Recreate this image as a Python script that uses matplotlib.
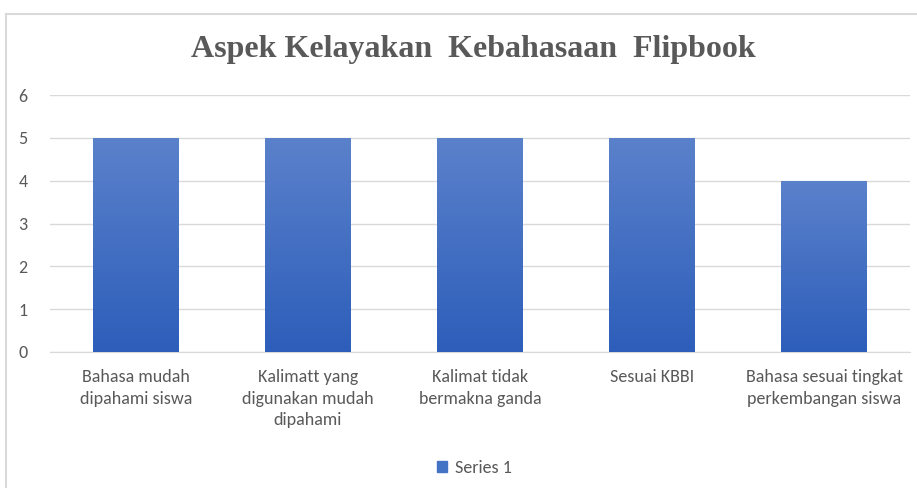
import matplotlib
matplotlib.use("Agg")
import matplotlib.pyplot as plt
import numpy as np
from matplotlib.patches import Rectangle, Patch
from matplotlib.colors import LinearSegmentedColormap

categories = ["Bahasa mudah\ndipahami siswa", "Kalimatt yang\ndigunakan mudah\ndipahami",
              "Kalimat tidak\nbermakna ganda", "Sesuai KBBI",
              "Bahasa sesuai tingkat\nperkembangan siswa"]
values = [5, 5, 5, 5, 4]
series_name = "Series 1"
title = "Aspek Kelayakan  Kebahasaan  Flipbook"

plt.rcParams["font.family"] = ["Carlito", "DejaVu Sans"]

W, H = 917, 488
fig = plt.figure(figsize=(W/100, H/100), dpi=100)
fig.patches.append(Rectangle((6/W, -0.1), 1.2, (H-14)/H + 0.1, transform=fig.transFigure,
                             fill=False, edgecolor="#d9d9d9", lw=1.5))
ax = fig.add_axes([50/W, 136/H, (910-50)/W, (393-136)/H])
x = np.arange(len(categories))
bars = ax.bar(x, values, width=0.5, color="#4472c4", zorder=2)
cmap = LinearSegmentedColormap.from_list("g", ["#2d5eba", "#5b81cb"])
grad = np.linspace(0, 1, 256).reshape(-1, 1)
for b in bars:
    bx, by, bw, bh = b.get_x(), b.get_y(), b.get_width(), b.get_height()
    im = ax.imshow(grad, cmap=cmap, origin="lower", aspect="auto",
                   extent=[bx, bx+bw, by, by+bh], zorder=3)
    im.set_clip_path(b)
ax.set_xlim(-0.5, len(categories)-0.5)
ax.set_ylim(0, 6)
ax.set_yticks(range(0, 7))
ax.grid(axis="y", color="#d9d9d9", lw=1, zorder=0)
for s in ["top", "right", "left"]:
    ax.spines[s].set_visible(False)
ax.spines["bottom"].set_color("#d9d9d9")
ax.tick_params(length=0, colors="#595959", labelsize=13)
ax.tick_params(axis="y", pad=16)
ax.tick_params(axis="x", pad=12)
ax.set_xticks(x)
ax.set_xticklabels(categories, linespacing=1.45)
fig.text(473/W, 1-50/H, title, ha="center", va="center", fontsize=23,
         family="Liberation Serif", weight="bold", color="#595959")
leg = fig.legend(handles=[Patch(color="#4472c4", label=series_name)], loc="center",
                 bbox_to_anchor=(474/W, 1-468/H), frameon=False, fontsize=13,
                 handlelength=0.6, handleheight=0.6, handletextpad=0.4)
for t in leg.get_texts():
    t.set_color("#595959")
fig.savefig("out.png", dpi=100)
